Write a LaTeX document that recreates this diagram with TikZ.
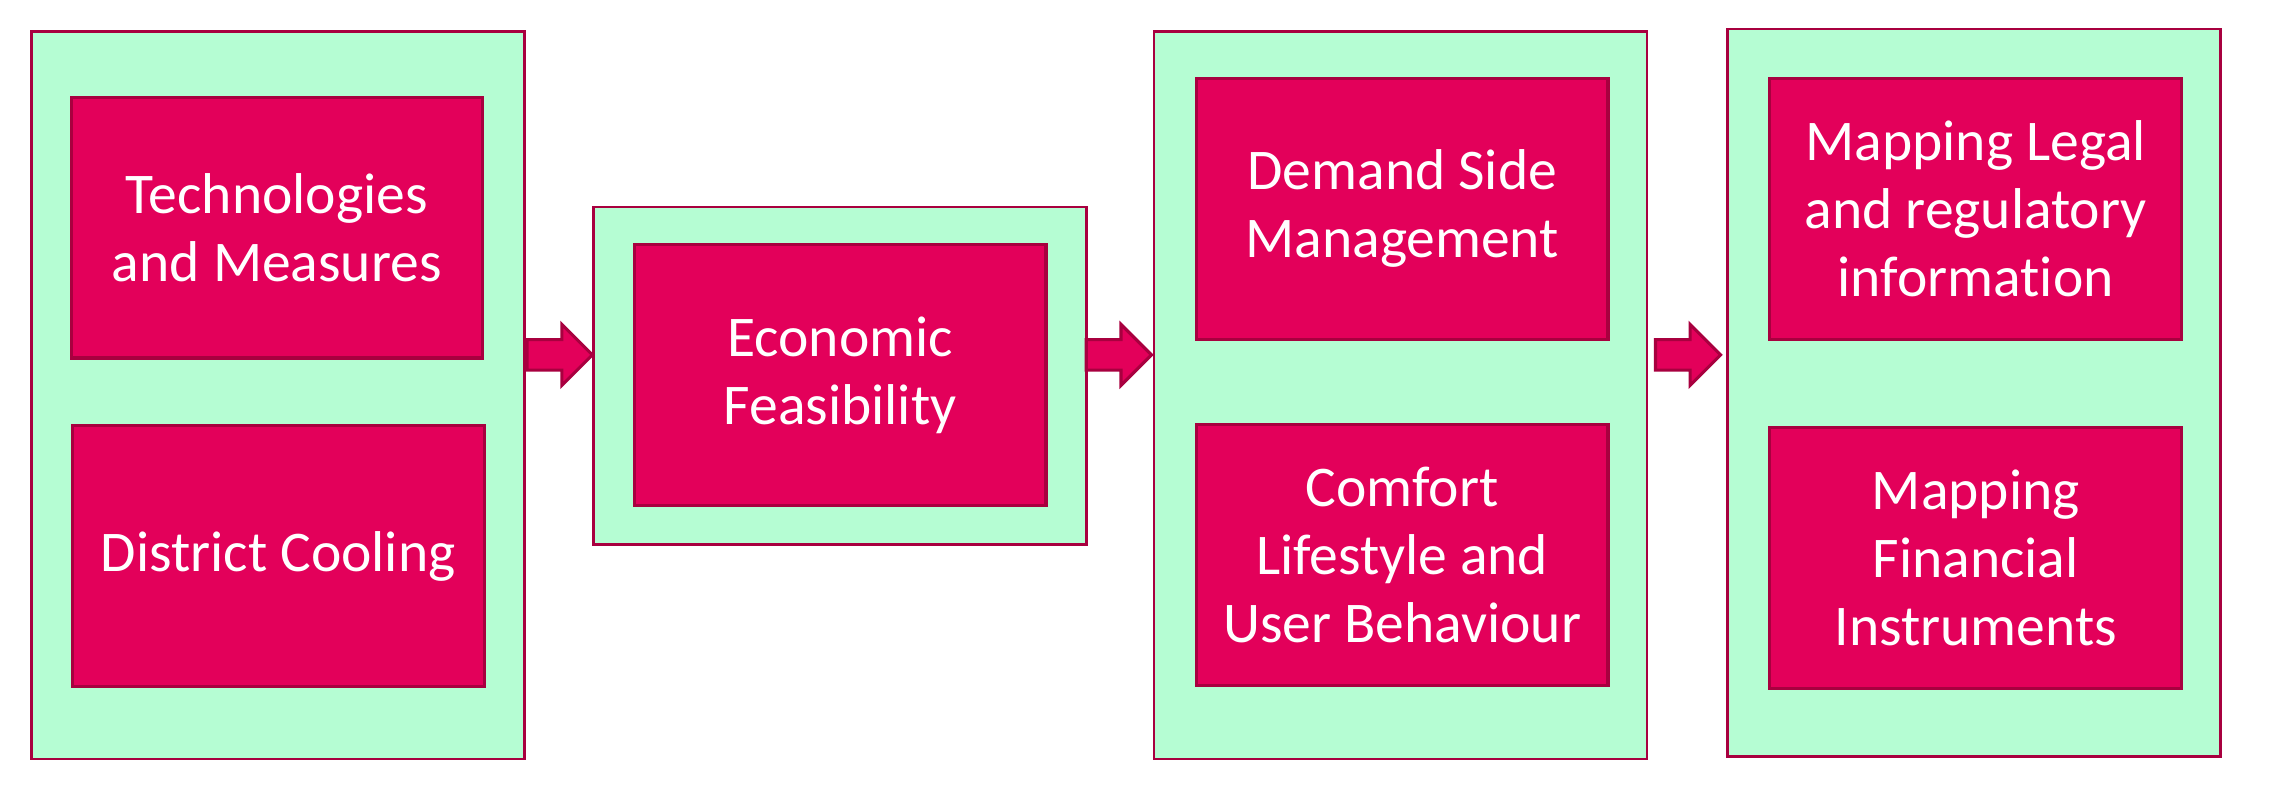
\documentclass[tikz,border=0pt]{standalone}
\usepackage{fontspec}
\setmainfont{Carlito}[Ligatures=NoCommon]
\usetikzlibrary{arrows,positioning,shapes.arrows}

\definecolor{boxfill}{HTML}{E3005A}
\definecolor{boxline}{HTML}{A8003F}
\definecolor{panel}{HTML}{B5FDD3}

\begin{document}
\begin{tikzpicture}[x=0.01cm,y=-0.01cm,thin]
\tikzstyle{outerbox}=[rectangle,draw=boxline,line width=0.5pt,fill=panel,anchor=north west,minimum width=3.4cm,inner sep=0pt]
\tikzstyle{innerbox}=[rectangle,draw=boxline,line width=0.6pt,fill=boxfill,anchor=north west,minimum width=2.84cm,minimum height=1.8cm,inner sep=0pt,text=white,align=center,font=\fontsize{11.3}{13.4}\selectfont]
\tikzstyle{fatarrow}=[single arrow,draw=boxline,line width=0.6pt,fill=boxfill,anchor=west,inner xsep=0pt,inner ysep=0.095cm,single arrow head extend=0.105cm,minimum height=0.45cm]

\useasboundingbox (0,0) rectangle (1568,553);

\node[outerbox,minimum height=5.02cm] (A) at (21,21) {};
\node[outerbox,minimum height=2.33cm] (B) at (409,142) {};
\node[outerbox,minimum height=5.02cm] (C) at (796,21) {};
\node[outerbox,minimum height=5.02cm] (D) at (1192,19) {};

\node[innerbox] (A1) at (48,66)   {Technologies\\and Measures};
\node[innerbox] (A2) at (49,293)  {District Cooling};
\node[innerbox] (B1) at (437,168) {Economic\\Feasibility};
\node[innerbox] (C1) at (825,53)  {Demand Side\\Management};
\node[innerbox] (C2) at (825,292) {Comfort\\Lifestyle and\\User Behaviour};
\node[innerbox] (D1) at (1221,53) {Mapping Legal\\and regulatory\\information};
\node[innerbox] (D2) at (1221,294) {Mapping\\Financial\\Instruments};

% arrows between the stages
\node[fatarrow] (AB) at (A.east |- 0,245) {};
\node[fatarrow] (BC) at ([xshift=-0.02cm]B.east |- 0,245) {};
\node[fatarrow] (CD) at ([xshift=0.04cm]C.east |- 0,245) {};
\end{tikzpicture}
\end{document}
